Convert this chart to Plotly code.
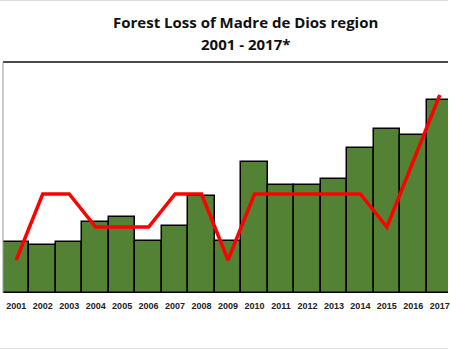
import plotly.graph_objects as go

years = [str(y) for y in range(2001, 2018)]
forest_loss = [5100, 4800, 5100, 7100, 7600, 5200, 6700, 9700, 5200,
               13100, 10800, 10800, 11400, 14500, 16400, 15800, 19300]
trend_level = [1, 3, 3, 2, 2, 2, 3, 3, 1, 3, 3, 3, 3, 3, 2, 4, 6]

PLOT_H = 231.0

fig = go.Figure()
fig.add_trace(go.Bar(
    x=years, y=forest_loss,
    marker=dict(color="#548235", line=dict(color="#000000", width=1.5)),
    width=1.0,
))
fig.add_trace(go.Scatter(
    x=years, y=trend_level, mode="lines", yaxis="y2",
    line=dict(color="#FF0000", width=3.5),
))

title_font = dict(family="Open Sans", size=15, color="#111111")

fig.update_layout(
    width=450, height=350,
    margin=dict(l=3, r=0, t=62, b=57),
    paper_bgcolor="white", plot_bgcolor="white",
    showlegend=False,
    bargap=0,
    xaxis=dict(
        type="category", range=[-0.5, 16.31],
        showgrid=False, zeroline=False, showline=False,
        ticks="", tickfont=dict(family="Liberation Sans", size=9, color="#222222", weight="bold"),
        ticklabelstandoff=6,
    ),
    yaxis=dict(range=[0, 23100], visible=False, showgrid=False, zeroline=False),
    yaxis2=dict(range=[0, 7], overlaying="y", visible=False, showgrid=False, zeroline=False),
    shapes=[
        dict(type="line", xref="paper", yref="paper", x0=0, x1=1, y0=1, y1=1,
             line=dict(color="#111111", width=1.5)),
        dict(type="line", xref="paper", yref="paper", x0=0, x1=0, y0=0, y1=1,
             line=dict(color="#999999", width=1)),
        dict(type="line", xref="paper", yref="paper", x0=-0.01, x1=1, y0=1 + 61.5 / PLOT_H, y1=1 + 61.5 / PLOT_H,
             line=dict(color="#dddddd", width=1)),
        dict(type="line", xref="paper", yref="paper", x0=-0.01, x1=1, y0=-55.5 / PLOT_H, y1=-55.5 / PLOT_H,
             line=dict(color="#dddddd", width=1)),
    ],
    annotations=[
        dict(text="<b>Forest Loss of Madre de Dios region</b>",
             xref="paper", yref="paper", x=(247 - 3) / 447, y=1 + (62 - 22) / PLOT_H,
             xanchor="center", yanchor="middle", showarrow=False, font=title_font),
        dict(text="<b>2001 - 2017*</b>",
             xref="paper", yref="paper", x=(247 - 3) / 447, y=1 + (62 - 44) / PLOT_H,
             xanchor="center", yanchor="middle", showarrow=False, font=title_font),
    ],
)

fig.write_html("out.html")
